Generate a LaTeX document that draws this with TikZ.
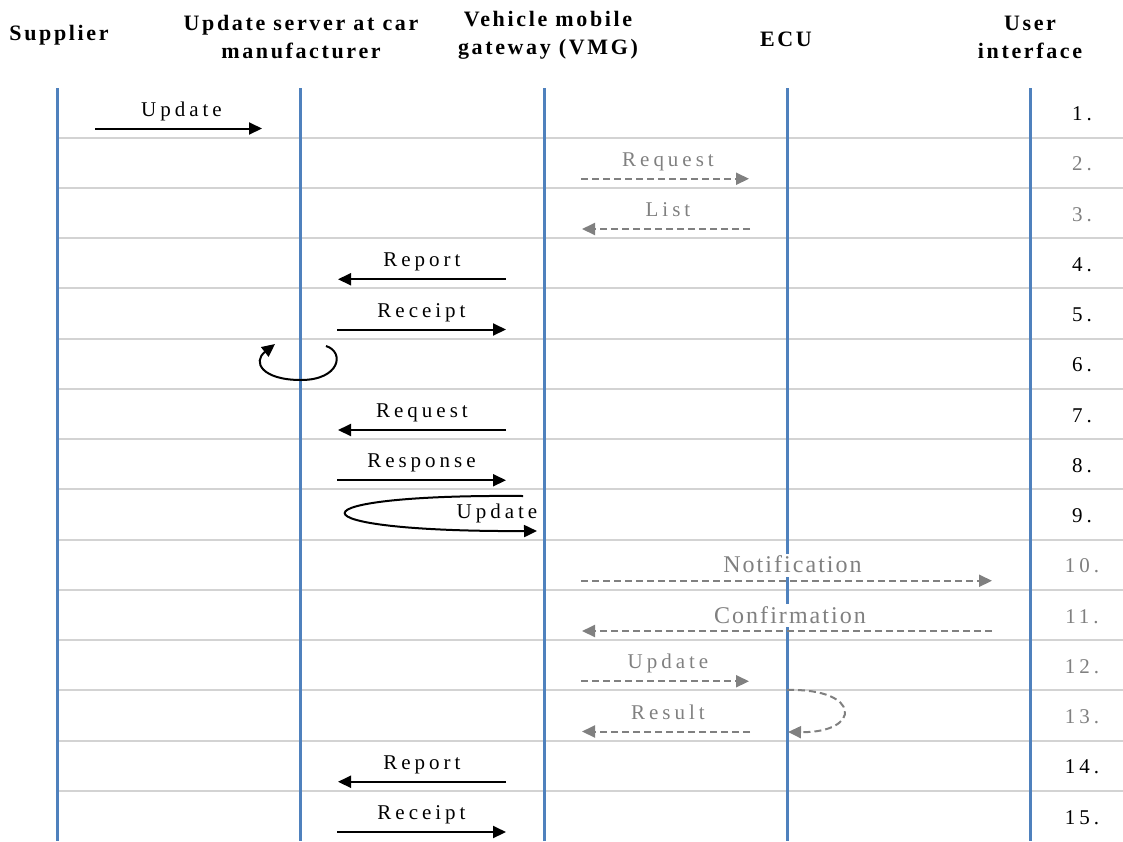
\documentclass[tikz,border=0pt]{standalone}
\usepackage{fontspec}
\setmainfont{Liberation Serif}
\newfontfamily\lblfont[LetterSpace=19]{Liberation Serif}
\newfontfamily\biglblfont[LetterSpace=8.5]{Liberation Serif}
\newfontfamily\hdrfont[LetterSpace=12]{Liberation Serif}
\usetikzlibrary{arrows.meta}
\definecolor{lifeblue}{RGB}{79,129,189}
\definecolor{rowgray}{RGB}{211,211,211}
\definecolor{msggray}{RGB}{128,128,128}
\tikzset{
  lifeline/.style={draw=lifeblue, line width=3pt},
  rowline/.style={draw=rowgray, line width=2pt},
  tipshape/.style={-{Triangle[length=13pt,width=12pt]}},
  msg/.style={draw=black, line width=2pt, tipshape},
  optmsg/.style={draw=msggray, line width=2pt, dash pattern=on 7pt off 4pt, tipshape},
  lbl/.style={font=\lblfont\fontsize{21}{25}\selectfont, anchor=base, inner sep=0pt, yshift=12.5pt},
  glbl/.style={lbl, text=msggray},
  biglbl/.style={font=\biglblfont\fontsize{24}{28}\selectfont, anchor=base, inner sep=0pt, yshift=8pt,
    text=msggray, fill=white, text height=19pt, text depth=4pt},
  num/.style={font=\lblfont\fontsize{21}{25}\selectfont, anchor=base, inner sep=0pt},
  gnum/.style={num, text=msggray},
  hdr/.style={font=\hdrfont\bfseries\fontsize{22}{28}\selectfont, anchor=base, inner sep=0pt, align=center},
}
\begin{document}
\begin{tikzpicture}[x=1pt,y=-1pt]
\useasboundingbox (0,0) rectangle (1123,841);
% headers
\node[hdr] (hsup) at (59,40) {Supplier};
\node[hdr] (hsrv) at (301,58) {Update server at car\\manufacturer};
\node[hdr] (hvmg) at (548,54) {Vehicle mobile\\gateway (VMG)};
\node[hdr] (hecu) at (786,46) {ECU};
\node[hdr] (hui) at (1030,58) {User\\interface};
% row separators
\foreach \k in {1,...,14} {
  \coordinate (gl\k a) at (57,{137.5+50.25*(\k-1)});
  \coordinate (gl\k b) at (1123,{137.5+50.25*(\k-1)});
  \draw[rowline] (gl\k a) -- (gl\k b);
}
% lifelines
\foreach \n/\x in {sup/57,srv/300,vmg/544,ecu/787,ui/1030} {
  \coordinate (\n top) at (\x,88);
  \coordinate (\n bot) at (\x,841);
  \draw[lifeline] (\n top) -- (\n bot);
}
% row numbers
\foreach \i/\s in {1/num,2/gnum,3/gnum,4/num,5/num,6/num,7/num,8/num,9/num,10/gnum,11/gnum,12/gnum,13/gnum,14/num,15/num} {
  \node[\s] (n\i) at (1082,{128.5+50.25*(\i-1)-8}) {\i.};
}
% 1
\coordinate (m1a) at (95,128.5);  \coordinate (m1b) at (262,128.5);
\draw[msg] (m1a) -- (m1b) node[lbl, midway, xshift=3pt] (t1) {Update};
% 2
\coordinate (m2a) at (581,178.75); \coordinate (m2b) at (749,178.75);
\draw[optmsg] (m2a) -- (m2b) node[glbl, midway, xshift=3pt] (t2) {Request};
% 3
\coordinate (m3a) at (750,229); \coordinate (m3b) at (582,229);
\draw[optmsg] (m3a) -- (m3b) node[glbl, midway, xshift=2pt] (t3) {List};
% 4
\coordinate (m4a) at (506,279.25); \coordinate (m4b) at (338,279.25);
\draw[msg] (m4a) -- (m4b) node[lbl, midway] (t4) {Report};
% 5
\coordinate (m5a) at (337,329.5); \coordinate (m5b) at (506,329.5);
\draw[msg] (m5a) -- (m5b) node[lbl, midway] (t5) {Receipt};
% 6 self loop at server
\coordinate (m6a) at (326,346); \coordinate (m6m) at (301,380); \coordinate (m6b) at (275,344);
\draw[msg] (m6a) .. controls (345,352) and (340,380) .. (m6m)
  .. controls (262,380) and (252,362) .. (m6b);
% 7
\coordinate (m7a) at (506,430); \coordinate (m7b) at (338,430);
\draw[msg] (m7a) -- (m7b) node[lbl, midway] (t7) {Request};
% 8
\coordinate (m8a) at (337,480.25); \coordinate (m8b) at (506,480.25);
\draw[msg] (m8a) -- (m8b) node[lbl, midway] (t8) {Response};
% 9 self loop at VMG
\coordinate (m9a) at (523,496); \coordinate (m9b) at (537,531);
\draw[msg] (m9a) .. controls (285,494) and (285,532) .. (m9b);
\node[lbl] (t9) at (497,530.5) {Update};
% 10
\coordinate (m10a) at (581,580.75); \coordinate (m10b) at (992,580.75);
\draw[optmsg] (m10a) -- (m10b) node[biglbl, midway, xshift=6pt] (t10) {Notification};
% 11
\coordinate (m11a) at (992,631); \coordinate (m11b) at (582,631);
\draw[optmsg] (m11a) -- (m11b) node[biglbl, midway, xshift=3pt] (t11) {Confirmation};
% 12
\coordinate (m12a) at (581,681.25); \coordinate (m12b) at (749,681.25);
\draw[optmsg] (m12a) -- (m12b) node[glbl, midway, xshift=3pt] (t12) {Update};
% 13
\coordinate (m13a) at (750,731.5); \coordinate (m13b) at (582,731.5);
\draw[optmsg] (m13a) -- (m13b) node[glbl, midway, xshift=2pt] (t13) {Result};
\coordinate (l13a) at (787,690); \coordinate (l13b) at (788,732);
\draw[optmsg] (l13a) .. controls (862,688) and (862,733) .. (l13b);
% 14
\coordinate (m14a) at (506,781.75); \coordinate (m14b) at (338,781.75);
\draw[msg] (m14a) -- (m14b) node[lbl, midway] (t14) {Report};
% 15
\coordinate (m15a) at (337,832); \coordinate (m15b) at (506,832);
\draw[msg] (m15a) -- (m15b) node[lbl, midway] (t15) {Receipt};
\end{tikzpicture}
\end{document}
